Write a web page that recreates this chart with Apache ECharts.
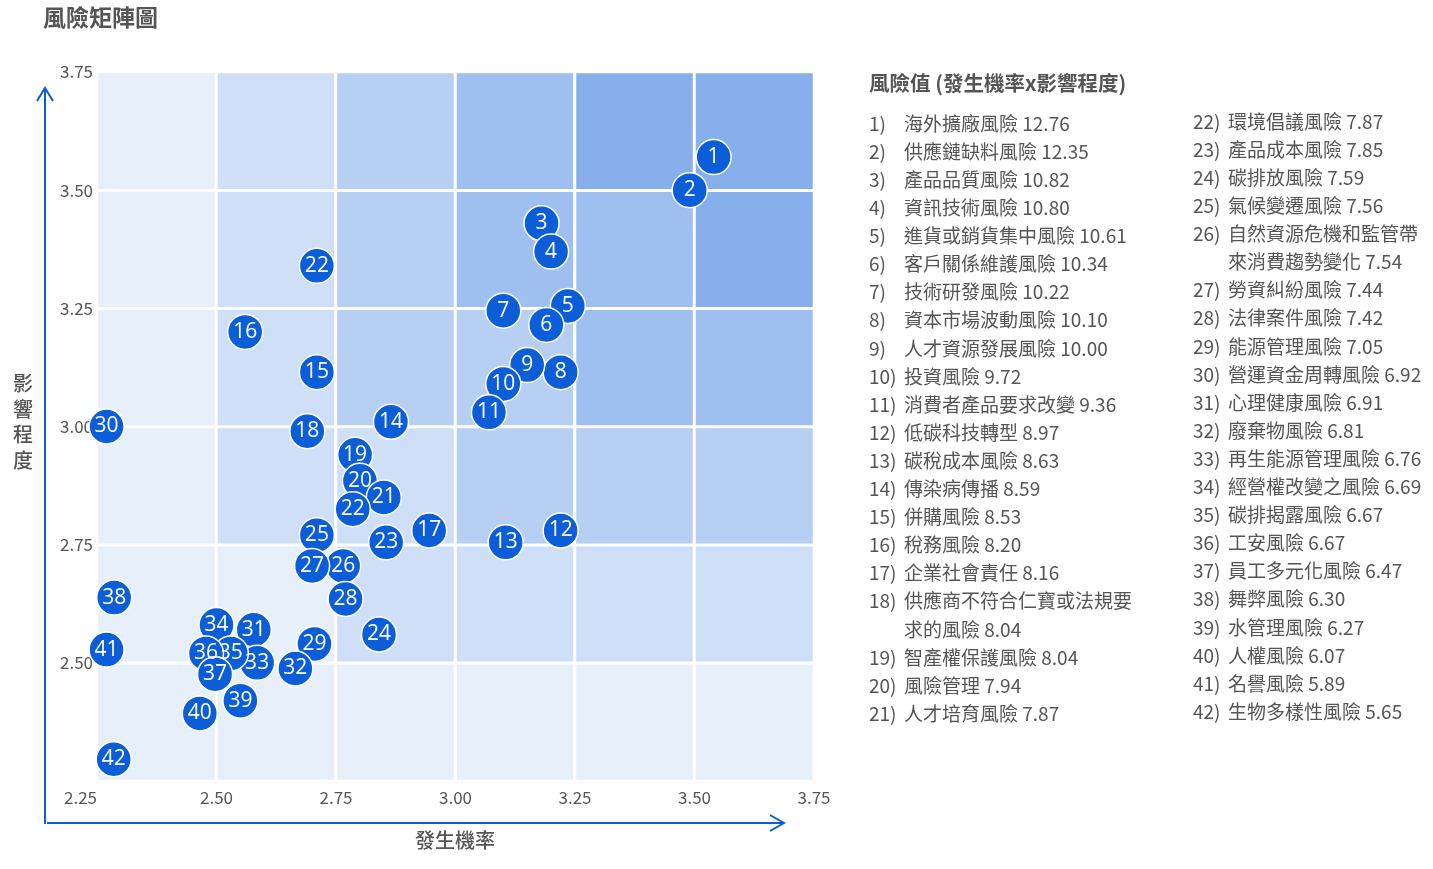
<!DOCTYPE html>
<html>
<head>
<meta charset="utf-8">
<title>風險矩陣圖</title>
<script src="https://cdn.jsdelivr.net/npm/echarts@6/dist/echarts.min.js"></script>
<style>
  html, body { margin: 0; padding: 0; background: #fff; }
  #chart { width: 1433px; height: 869px; }
</style>
</head>
<body>
<div id="chart"></div>
<script>
// 矩陣格子 (6x6, 每格 0.25)
const cellCats = ['0', '1', '2', '3', '4', '5'];
// 每列由下往上，每行由左往右的顏色等級
const cellLevels = [
  [0, 0, 0, 0, 0, 0],
  [0, 0, 1, 1, 1, 1],
  [0, 1, 1, 2, 2, 2],
  [0, 1, 2, 2, 3, 3],
  [0, 1, 2, 3, 3, 4],
  [0, 1, 2, 3, 4, 4],
];
const levelColors = ['#e7effb', '#cfdff7', '#b6cff3', '#9ebfef', '#86afeb'];

// 座標軸
const axisTicks = [2.25, 2.5, 2.75, 3.0, 3.25, 3.5, 3.75];

// 散佈點 (發生機率, 影響程度)
const pointLabels = ['1', '2', '3', '4', '5', '6', '7', '8', '9', '10', '11', '12', '13', '14', '15', '16', '17', '18', '19', '20', '21', '22', '22', '23', '24', '25', '26', '27', '28', '29', '30', '31', '32', '33', '34', '35', '36', '37', '38', '39', '40', '41', '42'];
const probX = [3.54, 3.49, 3.18, 3.20, 3.235, 3.19, 3.10, 3.22, 3.15, 3.10, 3.07, 3.22, 3.105, 2.865, 2.71, 2.56, 2.945, 2.69, 2.79, 2.80, 2.85, 2.71, 2.785, 2.855, 2.84, 2.71, 2.765, 2.70, 2.77, 2.705, 2.27, 2.578, 2.665, 2.585, 2.50, 2.53, 2.478, 2.497, 2.286, 2.55, 2.465, 2.27, 2.285];
const impactY = [3.57, 3.50, 3.43, 3.37, 3.255, 3.215, 3.245, 3.115, 3.13, 3.09, 3.03, 2.78, 2.755, 3.01, 3.115, 3.20, 2.78, 2.99, 2.94, 2.885, 2.85, 3.34, 2.825, 2.755, 2.56, 2.77, 2.705, 2.705, 2.635, 2.54, 3.00, 2.57, 2.488, 2.50, 2.58, 2.52, 2.52, 2.476, 2.638, 2.42, 2.393, 2.528, 2.296];

// 右側清單
const riskNames = ['海外擴廠風險', '供應鏈缺料風險', '產品品質風險', '資訊技術風險', '進貨或銷貨集中風險', '客戶關係維護風險', '技術研發風險', '資本市場波動風險', '人才資源發展風險', '投資風險', '消費者產品要求改變', '低碳科技轉型', '碳稅成本風險', '傳染病傳播', '併購風險', '稅務風險', '企業社會責任', '供應商不符合仁寶或法規要求的風險', '智產權保護風險', '風險管理', '人才培育風險', '環境倡議風險', '產品成本風險', '碳排放風險', '氣候變遷風險', '自然資源危機和監管帶來消費趨勢變化', '勞資糾紛風險', '法律案件風險', '能源管理風險', '營運資金周轉風險', '心理健康風險', '廢棄物風險', '再生能源管理風險', '經營權改變之風險', '碳排揭露風險', '工安風險', '員工多元化風險', '舞弊風險', '水管理風險', '人權風險', '名譽風險', '生物多樣性風險'];
const riskScores = [12.76, 12.35, 10.82, 10.80, 10.61, 10.34, 10.22, 10.10, 10.00, 9.72, 9.36, 8.97, 8.63, 8.59, 8.53, 8.20, 8.16, 8.04, 8.04, 7.94, 7.87, 7.87, 7.85, 7.59, 7.56, 7.54, 7.44, 7.42, 7.05, 6.92, 6.91, 6.81, 6.76, 6.69, 6.67, 6.67, 6.47, 6.30, 6.27, 6.07, 5.89, 5.65];

const FONT = '"Noto Sans CJK TC", "Noto Sans", sans-serif';
const BLUE = '#0b5ed7';

const cellData = [];
cellLevels.forEach((row, j) => {
  row.forEach((lv, i) => cellData.push([i, j, lv]));
});
const pointData = probX.map((x, k) => [x, impactY[k], pointLabels[k]]);

// 清單文字 (長名稱換行並縮排)
function listText(from, to, maxChars) {
  const lines = [];
  for (let k = from; k < to; k++) {
    const name = riskNames[k];
    const score = riskScores[k].toFixed(2);
    if (name.length > maxChars) {
      lines.push('{n|' + (k + 1) + ')}{t|' + name.slice(0, maxChars) + '}');
      lines.push('{n| }{t|' + name.slice(maxChars) + ' ' + score + '}');
    } else {
      lines.push('{n|' + (k + 1) + ')}{t|' + name + ' ' + score + '}');
    }
  }
  return lines.join('\n');
}

const listRich = {
  n: { width: 35, fontSize: 19, fontFamily: FONT, color: '#555', lineHeight: 28.1 },
  t: { fontSize: 19, fontFamily: FONT, color: '#555', lineHeight: 28.1 },
};

const chart = echarts.init(document.getElementById('chart'));

const option = {
  backgroundColor: '#fff',
  animation: false,
  textStyle: { fontFamily: FONT },
  grid: { left: 97, top: 72, width: 717, height: 709 },
  xAxis: [
    { type: 'category', data: cellCats, show: false },
    {
      type: 'value',
      position: 'bottom',
      min: axisTicks[0],
      max: axisTicks[axisTicks.length - 1],
      interval: 0.25,
      axisLine: { show: false },
      axisTick: { show: false },
      splitLine: { show: false },
      axisLabel: {
        color: '#555',
        fontSize: 17,
        margin: 8,
        alignMinLabel: 'right',
        formatter: v => v.toFixed(2),
      },
    },
  ],
  yAxis: [
    { type: 'category', data: cellCats, show: false },
    {
      type: 'value',
      position: 'left',
      min: axisTicks[0],
      max: axisTicks[axisTicks.length - 1],
      interval: 0.25,
      axisLine: { show: false },
      axisTick: { show: false },
      splitLine: { show: false },
      axisLabel: {
        color: '#555',
        fontSize: 17,
        margin: 4,
        showMinLabel: false,
        formatter: v => v.toFixed(2),
      },
    },
  ],
  visualMap: {
    type: 'piecewise',
    show: false,
    dimension: 2,
    seriesIndex: 0,
    pieces: levelColors.map((c, i) => ({ value: i, color: c })),
  },
  series: [
    {
      type: 'heatmap',
      xAxisIndex: 0,
      yAxisIndex: 0,
      data: cellData,
      silent: true,
      itemStyle: { borderColor: '#fff', borderWidth: 3 },
    },
    {
      type: 'scatter',
      xAxisIndex: 1,
      yAxisIndex: 1,
      data: pointData,
      symbolSize: 35,
      itemStyle: { color: BLUE, borderColor: '#fff', borderWidth: 1.5, opacity: 1 },
      label: {
        show: true,
        position: 'inside',
        color: '#fff',
        fontSize: 21,
        fontFamily: '"Open Sans", "Noto Sans", sans-serif',
        formatter: p => p.value[2],
      },
    },
  ],
  graphic: [
    {
      type: 'text', left: 43, top: 6,
      style: { text: '風險矩陣圖', font: 'bold 23px ' + FONT, fill: '#555' },
    },
    // y 軸箭頭
    { type: 'polyline', shape: { points: [[45, 824], [45, 88]] }, style: { stroke: BLUE, lineWidth: 2, fill: null } },
    { type: 'polyline', shape: { points: [[37, 101], [45, 88], [53, 101]] }, style: { stroke: BLUE, lineWidth: 2, fill: null } },
    // x 軸箭頭
    { type: 'polyline', shape: { points: [[47, 823], [784, 823]] }, style: { stroke: BLUE, lineWidth: 2, fill: null } },
    { type: 'polyline', shape: { points: [[770, 815], [784, 823], [770, 831]] }, style: { stroke: BLUE, lineWidth: 2, fill: null } },
    {
      type: 'text', left: 13, top: 371,
      style: { text: '影\n響\n程\n度', font: '500 20px ' + FONT, fill: '#555', lineHeight: 25.5 },
    },
    {
      type: 'text', left: 415, top: 830,
      style: { text: '發生機率', font: '500 20px ' + FONT, fill: '#555' },
    },
    {
      type: 'text', left: 869, top: 73,
      style: { text: '風險值 (發生機率x影響程度)', font: 'bold 20.5px ' + FONT, fill: '#555' },
    },
    {
      type: 'text', left: 869, top: 109.5,
      style: { text: listText(0, 21, 12), rich: listRich, font: '19px ' + FONT, fill: '#555', lineHeight: 28.1 },
    },
    {
      type: 'text', left: 1193, top: 107.5,
      style: { text: listText(21, 42, 10), rich: listRich, font: '19px ' + FONT, fill: '#555', lineHeight: 28.1 },
    },
  ],
};

chart.setOption(option);
window.addEventListener('resize', chart.resize);
</script>
</body>
</html>
